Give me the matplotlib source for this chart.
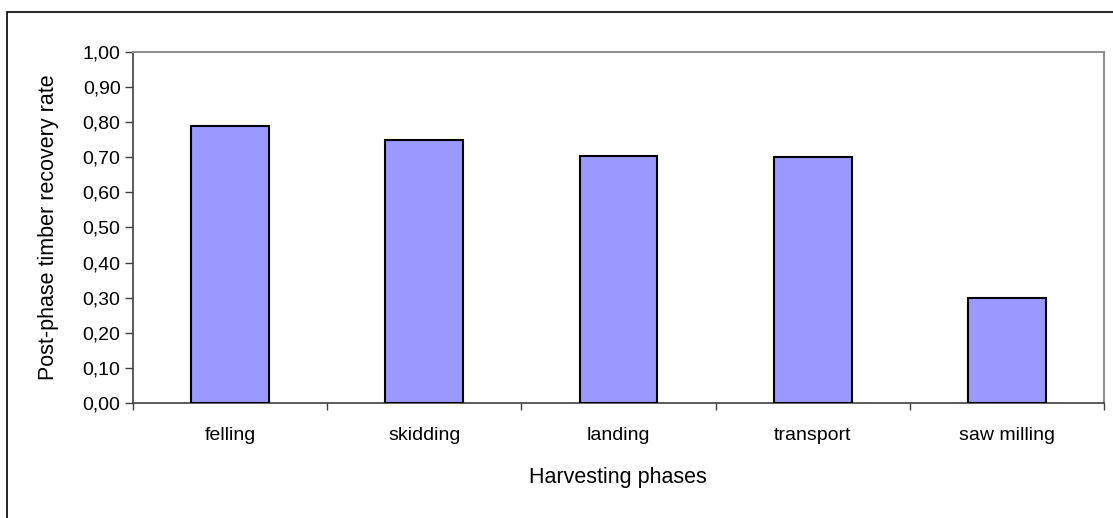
import numpy as np
import matplotlib
matplotlib.use("Agg")
import matplotlib.pyplot as plt
from matplotlib.patches import Rectangle
from matplotlib.ticker import FuncFormatter, MultipleLocator

plt.rcParams['font.family'] = ['Liberation Sans', 'DejaVu Sans']

# datos
fases = ["felling", "skidding", "landing", "transport", "saw milling"]
tasa = [0.79, 0.75, 0.705, 0.70, 0.30]

W, H = 1113, 518
fig = plt.figure(figsize=(W / 100, H / 100), dpi=100)
fig.patch.set_facecolor("white")

ax = fig.add_axes([133 / W, 1 - 403 / H, 971 / W, 351 / H])

x = np.arange(len(fases))
ax.bar(x, tasa, width=0.4, color="#9999FF", edgecolor="black", linewidth=1.5, zorder=3)

ax.set_xlim(-0.5, len(fases) - 0.5)
ax.set_ylim(0, 1.0)

fs_tick = 14
fs_title = 15.5
ax.yaxis.set_major_locator(MultipleLocator(0.1))
ax.yaxis.set_major_formatter(FuncFormatter(lambda v, p: f"{v:.2f}".replace(".", ",")))
ax.tick_params(axis="y", direction="out", length=6, width=1, color="#404040",
               labelsize=fs_tick, labelcolor="black", pad=3)

ax.set_xticks(x)
ax.set_xticklabels(fases)
ax.set_xticks(np.arange(len(fases) + 1) - 0.5, minor=True)
ax.tick_params(axis="x", which="major", length=0, labelsize=fs_tick, pad=17)
ax.tick_params(axis="x", which="minor", direction="out", length=5, width=1, color="#404040")

for s in ["top", "right"]:
    ax.spines[s].set_color("#909090")
    ax.spines[s].set_linewidth(1.5)
for s in ["left", "bottom"]:
    ax.spines[s].set_color("#404040")
    ax.spines[s].set_linewidth(1.2)

fig.text(49 / W, 1 - 227 / H, "Post-phase timber recovery rate", rotation=90,
         ha="center", va="center", fontsize=fs_title)
fig.text(618 / W, 1 - 478 / H, "Harvesting phases", ha="center", va="center", fontsize=fs_title)

# marco exterior
fig.add_artist(Rectangle((7 / W, -0.1), 1.2, (H - 12) / H + 0.1, transform=fig.transFigure,
                         fill=False, edgecolor="black", linewidth=1.2, clip_on=False))

plt.savefig("out.png", dpi=100)
